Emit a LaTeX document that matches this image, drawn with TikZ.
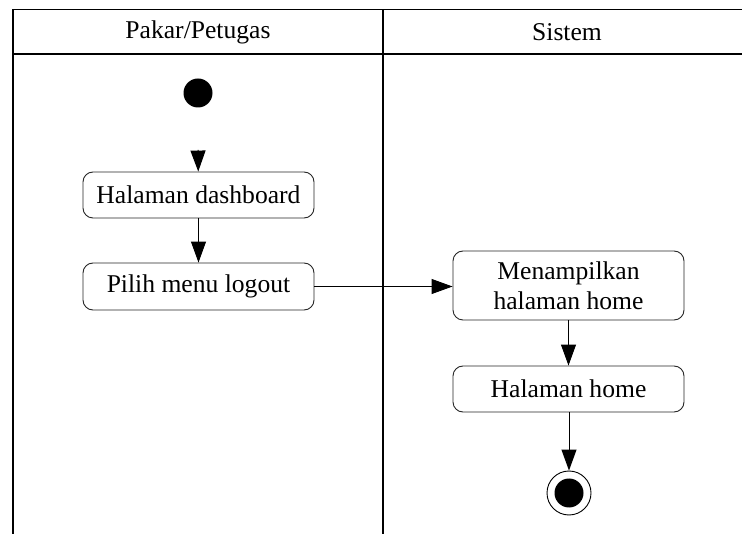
\documentclass[tikz,border=0pt]{standalone}
\usepackage{fontspec}
\setmainfont{Liberation Serif}
\usetikzlibrary{arrows.meta}
\begin{document}
\begin{tikzpicture}[x=1pt,y=-1pt,
  lane/.style={line width=1.6pt,draw=black},
  actbox/.style={draw=black!85,line width=0.9pt,rounded corners=10pt,
    minimum width=231pt,inner sep=0pt,align=center,
    font=\fontsize{25.6}{30}\selectfont},
  head/.style={font=\fontsize{25.6}{30}\selectfont},
  flow/.style={line width=1pt,-{Triangle[length=21pt,width=15pt]}}]
  \useasboundingbox (0,0) rectangle (742,534);
  \fill[white] (0,0) rectangle (742,534);
  % swimlane frame
  \draw[lane] (742,9.5) -- (13,9.5) -- (13,534);
  \draw[lane] (13,54) -- (742,54);
  \draw[lane] (383,9.5) -- (383,534);
  \node[head] (h1) at (198,32) {Pakar/Petugas};
  \node[head] (h2) at (567,32) {Sistem};
  % actions
  \fill (198,93) circle (14.5);
  \coordinate (s0) at (198,150);
  \node[actbox,minimum height=46pt] (dash) at (198.5,195) {Halaman dashboard};
  \node[actbox,minimum height=47pt] (logout) at (198.5,286.5) {Pilih menu logout};
  \node[actbox,minimum height=69pt] (show) at (568.5,285.5) {Menampilkan\\halaman home};
  \node[actbox,minimum height=46pt] (home) at (568.5,389) {Halaman home};
  \node[circle,draw=black,line width=0.9pt,minimum size=44pt,inner sep=0pt] (end) at (569,493) {};
  \fill (end.center) circle (14.5);
  % transitions
  \draw[flow] (s0) -- (dash);
  \draw[flow] (dash) -- (logout);
  \draw[flow] (logout.east) -- (logout.east -| show.west);
  \draw[flow] (show) -- (home);
  \draw[flow] (home.south -| end.north) -- (end);
\end{tikzpicture}
\end{document}
